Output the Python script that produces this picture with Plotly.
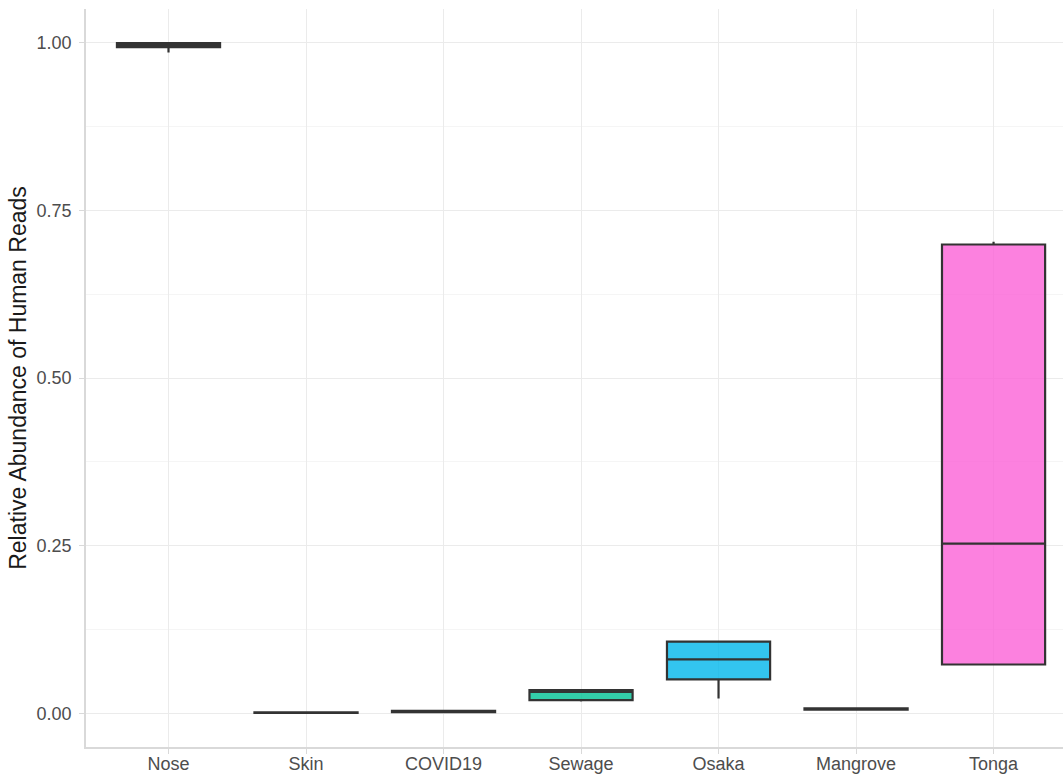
import plotly.graph_objects as go

categories = ["Nose", "Skin", "COVID19", "Sewage", "Osaka", "Mangrove", "Tonga"]
lower = [0.985, 0.0005, 0.0015, 0.018, 0.0224, 0.005, 0.073]
q1 = [0.993, 0.0008, 0.002, 0.0198, 0.0507, 0.0055, 0.073]
median = [0.996, 0.001, 0.003, 0.032, 0.0805, 0.006, 0.253]
q3 = [0.999, 0.0015, 0.004, 0.0347, 0.107, 0.0075, 0.699]
upper = [1.0, 0.0018, 0.0045, 0.0347, 0.107, 0.008, 0.703]
colors = ["rgba(248,118,109,0.8)", "rgba(196,154,0,0.8)", "rgba(83,180,0,0.8)",
          "rgba(0,192,148,0.8)", "rgba(0,182,235,0.8)", "rgba(165,138,255,0.8)",
          "rgba(251,97,215,0.8)"]

fig = go.Figure()
for i, c in enumerate(categories):
    fig.add_trace(go.Box(
        x=[c], q1=[q1[i]], median=[median[i]], q3=[q3[i]],
        lowerfence=[lower[i]], upperfence=[upper[i]],
        fillcolor=colors[i], line=dict(color="#333333", width=2.2),
        whiskerwidth=0, width=0.75, boxpoints=False, showlegend=False,
        hoverinfo="skip"))

fig.update_layout(
    width=1063, height=774,
    margin=dict(l=86, r=0, t=9, b=27),
    plot_bgcolor="white", paper_bgcolor="white",
    boxmode="overlay",
    font=dict(family="Liberation Sans, Arial, sans-serif"),
)
fig.update_xaxes(
    categoryorder="array", categoryarray=categories,
    range=[-0.6, 6.505], automargin=False,
    showgrid=True, gridcolor="#ebebeb", gridwidth=1,
    showline=True, linecolor="#d9d9d9", linewidth=1.5,
    ticks="outside", ticklen=5, tickcolor="#d9d9d9",
    ticklabelstandoff=-5,
    tickfont=dict(size=18, color="#4d4d4d"), zeroline=False,
)
fig.update_yaxes(
    range=[-0.05, 1.05], automargin=False,
    tickvals=[0, 0.25, 0.5, 0.75, 1.0],
    ticktext=["0.00", "0.25", "0.50", "0.75", "1.00"],
    showgrid=True, gridcolor="#ebebeb", gridwidth=1,
    minor=dict(tickvals=[0.125, 0.375, 0.625, 0.875], showgrid=True,
               gridcolor="#f5f5f5", gridwidth=1, ticks=""),
    showline=True, linecolor="#d9d9d9", linewidth=1.5,
    ticks="outside", ticklen=5, tickcolor="#d9d9d9",
    ticklabelstandoff=4,
    tickfont=dict(size=18, color="#4d4d4d"), zeroline=False,
    title=dict(text="Relative Abundance of Human Reads",
               font=dict(size=23, color="#1a1a1a"), standoff=4),
)

fig.write_html("out.html")
